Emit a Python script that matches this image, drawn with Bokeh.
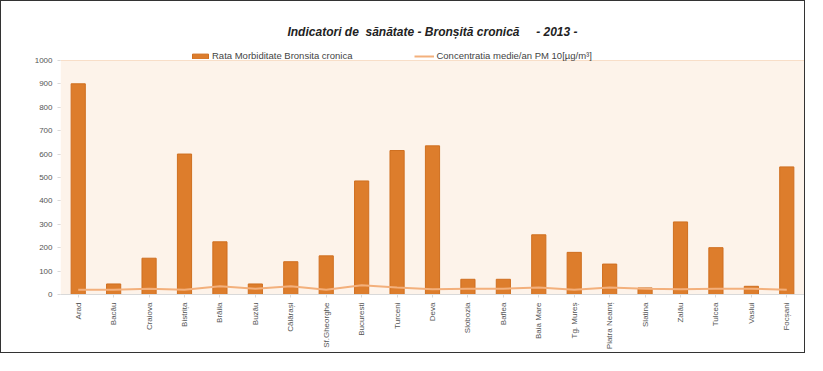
from bokeh.plotting import figure
from bokeh.models import (ColumnDataSource, Legend, LegendItem, Range1d, FixedTicker,
                          BoxAnnotation)
from bokeh.embed import file_html
from bokeh.resources import INLINE
from math import pi

cities = ["Arad", "Bacău", "Craiova", "Bistrița", "Brăila", "Buzău", "Călărași", "Sf.Gheorghe",
          "Bucuresti", "Turceni", "Deva", "Slobozia", "Baflea", "Baia Mare", "Tg. Mureș",
          "Piatra Neamț", "Slatina", "Zalău", "Tulcea", "Vaslui", "Focșani"]
morbiditate = [900, 45, 155, 600, 225, 45, 140, 165, 485, 615, 635, 65, 65, 255, 180, 130, 28, 310, 200, 35, 545]
pm10 = [20, 20, 25, 20, 35, 25, 35, 20, 40, 30, 22, 25, 25, 30, 20, 30, 25, 22, 25, 25, 20]
y_ticks = [0, 100, 200, 300, 400, 500, 600, 700, 800, 900, 1000]

src = ColumnDataSource(dict(city=cities, morb=morbiditate, pm=pm10))

NB = "\u00a0"
title = f"Indicatori de{NB}{NB}sănătate - Bronșită cronică{NB}{NB}{NB}{NB}{NB}- 2013 -"

p = figure(x_range=cities, y_range=Range1d(0, 1085), width=805, height=353,
           output_backend="svg", toolbar_location=None, title=title,
           min_border_left=59, min_border_right=2, min_border_top=39, min_border_bottom=60)
p.styles = {"border": "1px solid #333333"}

p.title.align = "center"
p.title.text_font = "Liberation Sans"
p.title.text_font_style = "bold italic"
p.title.text_font_size = "12px"
p.title.text_color = "#222222"
p.title.standoff = 4
p.title.offset = -20

p.background_fill_color = "white"
p.border_fill_color = "white"
p.outline_line_color = None

p.add_layout(BoxAnnotation(bottom=0, top=1000, fill_color="#fdf3ea", fill_alpha=1.0,
                           line_color=None, level="underlay"))

r_bar = p.vbar(x="city", top="morb", width=0.4, source=src, fill_color="#dd7d2c", line_color="#cf6f20")
r_line = p.line(x="city", y="pm", source=src, line_color="#f3b07c", line_width=2)

p.yaxis.ticker = FixedTicker(ticks=y_ticks)
p.ygrid.grid_line_color = "#f3c9a6"
p.ygrid.grid_line_width = 1
p.xgrid.grid_line_color = None
for ax in (p.xaxis, p.yaxis):
    ax.major_tick_line_color = "#d9d9d9"
    ax.minor_tick_line_color = None
    ax.major_label_text_font = "Liberation Sans"
    ax.major_label_text_font_size = "8px"
    ax.major_label_text_color = "#555555"
p.xaxis.axis_line_color = "#d9d9d9"
p.yaxis.axis_line_color = None
p.yaxis.major_tick_out = 3
p.yaxis.major_tick_in = 0
p.xaxis.major_tick_out = 3
p.xaxis.major_tick_in = 0
p.xaxis.major_label_orientation = pi / 2
p.x_range.range_padding = 0.0

legend = Legend(items=[LegendItem(label="Rata Morbiditate Bronsita cronica", renderers=[r_bar]),
                       LegendItem(label="Concentratia medie/an PM 10[µg/m³]", renderers=[r_line])],
                orientation="horizontal", location=(130, 233), border_line_color=None,
                background_fill_alpha=0.0,
                label_text_font="Liberation Sans", label_text_font_size="9.5px",
                label_text_color="#444444", glyph_width=20, glyph_height=6,
                spacing=62, padding=2, margin=0, label_standoff=2, label_height=9)
p.add_layout(legend, "center")

open("out.html", "w").write(file_html(p, INLINE))
